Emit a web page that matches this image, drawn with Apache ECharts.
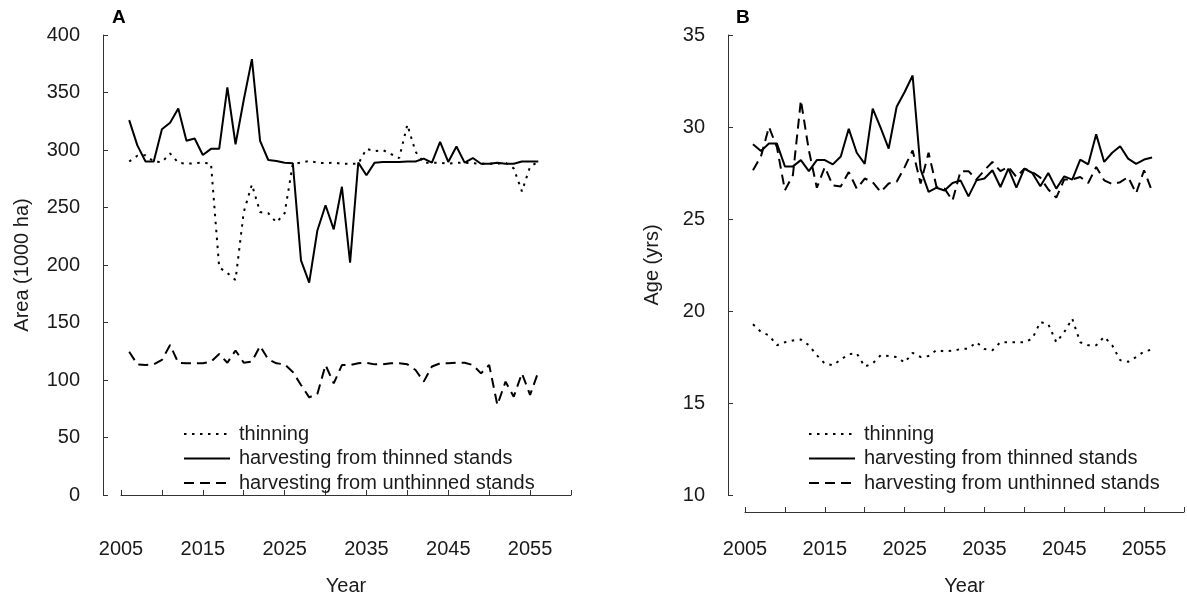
<!DOCTYPE html>
<html>
<head>
<meta charset="utf-8">
<script src="https://cdn.jsdelivr.net/npm/echarts@6/dist/echarts.min.js"></script>
<style>
html,body{margin:0;padding:0;background:#fff;}
#chart{width:1187px;height:601px;}
</style>
</head>
<body>
<div id="chart"></div>
<script>
const years = [2006,2007,2008,2009,2010,2011,2012,2013,2014,2015,2016,2017,2018,2019,2020,2021,2022,2023,2024,2025,2026,2027,2028,2029,2030,2031,2032,2033,2034,2035,2036,2037,2038,2039,2040,2041,2042,2043,2044,2045,2046,2047,2048,2049,2050,2051,2052,2053,2054,2055,2056];
const seriesNames = ['thinning','harvesting from thinned stands','harvesting from unthinned stands'];
const xTickLabels = [2005,2015,2025,2035,2045,2055];

// Panel A: Area (1000 ha)
const areaThinning = [290,295,295.5,290,289.5,297,289,288,288.5,289,288,198,193,187,246,270,246,245,237,245,288,289,290.5,289,288.5,289,288,288,288,301,299,300,296.5,293,322,298.5,289,289,289,288,289,289,288.5,288,288,288,289,284,264,285.5,289.8];
const areaThinned = [326,304,290,290,318,323.7,336,308,310,295.7,301,301,354.5,305,343.5,379,308,291.3,290.5,289,288.5,204,184.6,230,252,231,268,202,289,278,289,289.5,289.5,289.5,290,290,292.5,289,307,289.6,303,289,293,288,288,289,288,288,290,290,290];
const areaUnthinned = [124.6,113.6,113,113.6,117.4,130.4,115,114.5,114.5,114.5,116,122.6,115,125.7,115,116,129.6,118,114.5,113.6,107,95.7,84.9,87.9,113,97,113,113,114.5,115,113.6,113.6,114.5,114.5,113.6,108.7,98.6,111.7,114.5,114.5,115,115,113,105.8,113,78.3,98.6,85.5,105.8,87,107];

// Panel B: Age (yrs)
const ageThinning = [19.28,18.86,18.68,18.14,18.3,18.4,18.45,18.14,17.6,17.14,17.05,17.36,17.65,17.7,16.98,17.15,17.6,17.56,17.5,17.2,17.72,17.5,17.56,17.88,17.8,17.84,17.93,17.96,18.3,17.93,17.87,18.3,18.3,18.3,18.3,18.5,19.4,19.28,18.3,18.85,19.58,18.3,18.14,18.14,18.6,18.14,17.33,17.24,17.5,17.8,17.9];
const ageThinned = [29.06,28.7,29.1,29.1,27.86,27.86,28.2,27.6,28.2,28.2,27.97,28.4,29.9,28.6,28.0,31.0,29.95,28.83,31.1,31.9,32.8,27.7,26.47,26.7,26.55,26.96,27.1,26.23,27.1,27.2,27.65,26.74,27.74,26.7,27.74,27.5,26.78,27.5,26.65,27.32,27.14,28.23,27.97,29.6,28.1,28.6,28.95,28.28,28.0,28.23,28.34];
const ageUnthinned = [27.65,28.4,30.0,28.9,26.56,27.38,31.45,28.73,26.7,27.82,26.83,26.77,27.55,26.65,27.2,27.0,26.47,26.93,27.02,27.82,28.73,26.93,28.6,26.74,26.65,26.0,27.6,27.6,27.15,27.65,28.1,27.6,27.83,27.28,27.74,27.56,27.25,26.6,26.16,27.15,27.15,27.28,26.96,27.83,27.1,26.9,27.0,27.28,26.4,27.65,26.5];

const FONT = '"Liberation Sans", Arial, sans-serif';
const TXT = '#1a1a1a';
const AX = '#333';
const pair = arr => years.map((y, i) => [y, arr[i]]);
const styles = [
  {type: [2.5, 5.5], width: 2},
  {type: 'solid', width: 2},
  {type: [10, 6], width: 2}
];

function xAxisCfg(gridIndex) {
  return {
    gridIndex, type: 'value', min: 2005, max: 2060, interval: 5, offset: 17,
    name: 'Year', nameLocation: 'middle', nameGap: 64,
    nameTextStyle: {fontSize: 20, color: TXT, fontFamily: FONT},
    axisLine: {show: true, lineStyle: {color: AX, width: 1}},
    axisTick: {show: true, inside: true, length: 5, lineStyle: {color: AX}},
    axisLabel: {
      margin: 27, fontSize: 20, color: TXT, fontFamily: FONT,
      formatter: v => xTickLabels.indexOf(v) >= 0 ? String(v) : ''
    },
    splitLine: {show: false}
  };
}
function yAxisCfg(gridIndex, name, min, max, interval, offset, gap) {
  return {
    gridIndex, type: 'value', min, max, interval, offset,
    name, nameLocation: 'middle', nameGap: gap,
    nameTextStyle: {fontSize: 20, color: TXT, fontFamily: FONT},
    axisLine: {show: true, lineStyle: {color: AX, width: 1}},
    axisTick: {show: true, inside: true, length: 5, lineStyle: {color: AX}},
    axisLabel: {margin: 23, fontSize: 20, color: TXT, fontFamily: FONT},
    splitLine: {show: false}
  };
}
function mkSeries(name, data, idx, axisIndex) {
  return {
    name, type: 'line', xAxisIndex: axisIndex, yAxisIndex: axisIndex,
    data: pair(data), symbol: 'none', showSymbol: false, silent: true,
    lineStyle: {color: '#000', width: styles[idx].width, type: styles[idx].type},
    itemStyle: {color: '#000'}
  };
}
function legendCfg(left) {
  return {
    left, top: 419, orient: 'vertical', itemWidth: 46, itemHeight: 14, itemGap: 4.5,
    data: seriesNames, selectedMode: false,
    itemStyle: {color: 'rgba(0,0,0,0)', borderWidth: 0, opacity: 0},
    textStyle: {fontSize: 20, color: TXT, fontFamily: FONT, lineHeight: 20, padding: [0, 0, 0, 4]}
  };
}

const chart = echarts.init(document.getElementById('chart'), null, {renderer: 'canvas'});
chart.setOption({
  animation: false,
  backgroundColor: '#fff',
  title: [
    {text: 'A', left: 112, top: 8, padding: 0, textStyle: {fontSize: 19, fontWeight: 'bold', color: '#000', fontFamily: FONT}},
    {text: 'B', left: 736, top: 8, padding: 0, textStyle: {fontSize: 19, fontWeight: 'bold', color: '#000', fontFamily: FONT}}
  ],
  grid: [
    {left: 121, top: 35, width: 450, height: 460, containLabel: false},
    {left: 745, top: 35, width: 449, height: 460, containLabel: false}
  ],
  xAxis: [xAxisCfg(0), xAxisCfg(1)],
  yAxis: [
    yAxisCfg(0, 'Area (1000 ha)', 0, 400, 50, 18, 71),
    yAxisCfg(1, 'Age (yrs)', 10, 35, 5, 17, 66)
  ],
  legend: [legendCfg(178), legendCfg(803)],
  series: [
    mkSeries(seriesNames[0], areaThinning, 0, 0),
    mkSeries(seriesNames[1], areaThinned, 1, 0),
    mkSeries(seriesNames[2], areaUnthinned, 2, 0),
    mkSeries(seriesNames[0], ageThinning, 0, 1),
    mkSeries(seriesNames[1], ageThinned, 1, 1),
    mkSeries(seriesNames[2], ageUnthinned, 2, 1)
  ]
});
</script>
</body>
</html>
